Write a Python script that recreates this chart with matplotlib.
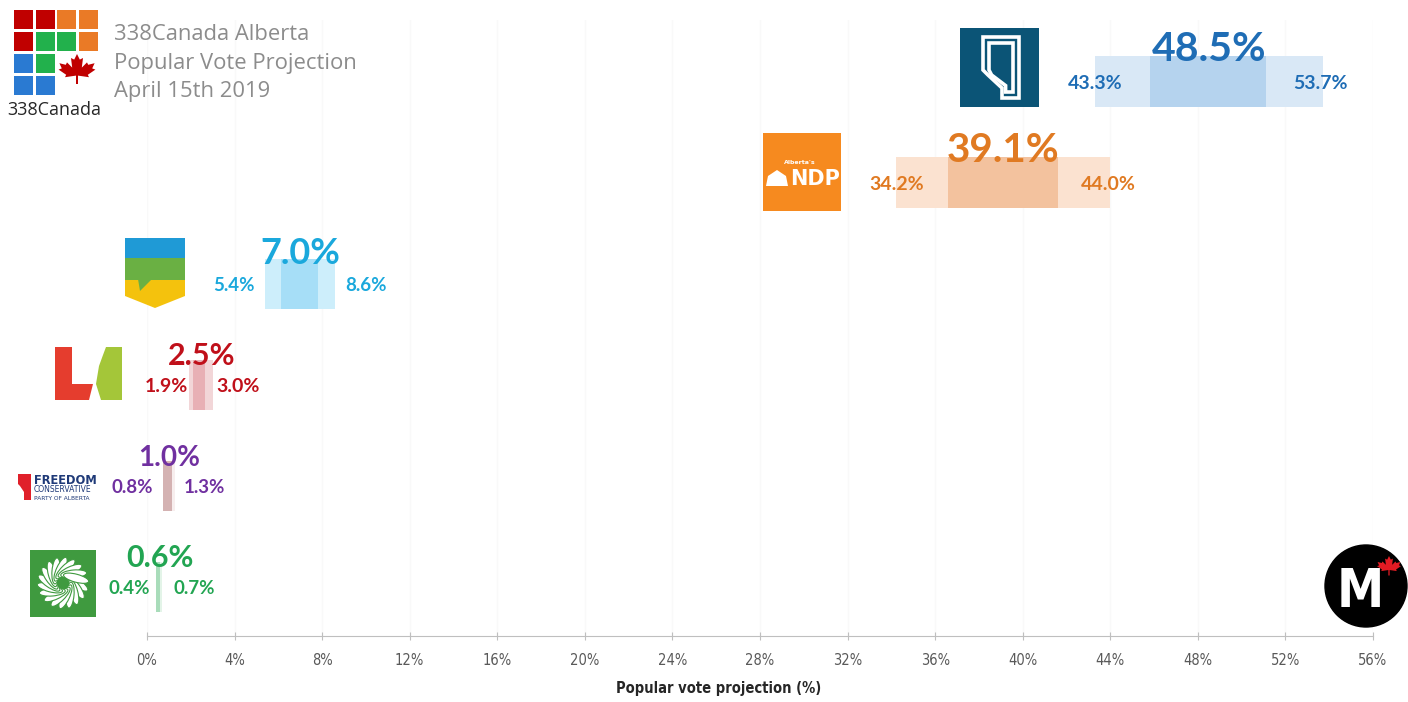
import numpy as np
import matplotlib
matplotlib.use("Agg")
import matplotlib.pyplot as plt
from matplotlib.patches import Rectangle, Polygon, Circle, Ellipse

# projection data (April 15th 2019)
parties = ["UCP", "NDP", "Alberta Party", "Liberal", "Freedom Conservative", "Green"]
projection = [48.5, 39.1, 7.0, 2.5, 1.0, 0.6]
low = [43.3, 34.2, 5.4, 1.9, 0.8, 0.4]
high = [53.7, 44.0, 8.6, 3.0, 1.3, 0.7]
inner_low = [45.8, 36.6, 6.1, 2.1, 0.75, 0.4]
inner_high = [51.1, 41.6, 7.8, 2.65, 1.15, 0.6]
xticks = list(range(0, 57, 4))

# styling per party
text_col = ["#1f6db5", "#e07a22", "#1aa8dc", "#c0101a", "#7030a0", "#22a552"]
outer_col = ["#d9e8f6", "#fbe2d0", "#cdeefb", "#f2d6d8", "#f7eeee", "#e3f4e8"]
inner_col = ["#b5d3ee", "#f3c29e", "#a6def7", "#e8b0b5", "#d4b2b2", "#a9dcba"]
big_size = [29.5, 29, 26, 22, 20, 22]
small_size = [14, 14, 13.5, 14, 13.5, 13.5]
low_dx = [28, 28, -11, -1, -12, -6]
high_dx = [-29, -29, 10, 4, 8, 11]

W, H = 1408, 702
fig = plt.figure(figsize=(W / 100, H / 100), dpi=100)
ax = fig.add_axes([147 / W, 1 - 636 / H, (1373 - 147) / W, (636 - 20) / H])

ypos = np.arange(len(parties))[::-1]
ax.barh(ypos, np.subtract(high, low), left=low, height=0.5, color=outer_col, zorder=2)
ax.barh(ypos, np.subtract(inner_high, inner_low), left=inner_low, height=0.5,
        color=inner_col, zorder=3)

bold = dict(family="Lato", fontweight="bold")
for i, y in enumerate(ypos):
    ax.annotate(f"{projection[i]:.1f}%", (projection[i], y + 0.25), xytext=(0, -5),
                textcoords="offset pixels", ha="center", va="baseline",
                fontsize=big_size[i], color=text_col[i], zorder=5, **bold)
    ax.annotate(f"{low[i]:.1f}%", (low[i], y), xytext=(low_dx[i], -2),
                textcoords="offset pixels", ha="right", va="center",
                fontsize=small_size[i], color=text_col[i], zorder=5, **bold)
    ax.annotate(f"{high[i]:.1f}%", (high[i], y), xytext=(high_dx[i], -2),
                textcoords="offset pixels", ha="left", va="center",
                fontsize=small_size[i], color=text_col[i], zorder=5, **bold)

ax.set_xlim(0, 56)
ax.set_ylim(-0.485, 5.61)
ax.set_xticks(xticks)
ax.set_xticklabels([f"{t}%" for t in xticks], color="#595959", fontsize=10.5,
                   fontstretch="condensed")
ax.set_yticks([])
ax.grid(axis="x", color="#f9f9f9", lw=1, zorder=0)
for s in ["top", "right", "left"]:
    ax.spines[s].set_visible(False)
ax.spines["bottom"].set_color("#bfbfbf")
ax.tick_params(axis="x", direction="inout", length=6, color="#bfbfbf", pad=9)
ax.set_xlabel("Popular vote projection (%)", fontsize=10.5, fontweight="bold",
              color="#262626", fontstretch="condensed")
ax.xaxis.set_label_coords(0.4666, -0.073)

# overlay in pixel coordinates for the logos and title
ov = fig.add_axes([0, 0, 1, 1], zorder=10)
ov.set_xlim(0, W)
ov.set_ylim(H, 0)
ov.axis("off")


def leaf(cx, cy, s, color):
    half = [(0, -1.0), (0.14, -0.72), (0.3, -0.8), (0.24, -0.32), (0.5, -0.58),
            (0.56, -0.46), (0.88, -0.54), (0.76, -0.28), (0.92, -0.22),
            (0.54, 0.04), (0.6, 0.16), (0.05, 0.08), (0.05, 0.5)]
    pts = half + [(-x, y) for x, y in reversed(half)]
    ov.add_patch(Polygon([(cx + x * s, cy + y * s) for x, y in pts], closed=True,
                         color=color, lw=0))


# 338Canada logo
grid = [["#c00000", "#c00000", "#ea7a26", "#ea7a26"],
        ["#c00000", "#22b14c", "#22b14c", "#ea7a26"],
        ["#2a7ad2", "#22b14c", None, None],
        ["#2a7ad2", "#2a7ad2", None, None]]
gx = [14, 36, 57, 79]
gy = [10, 32, 54, 76]
for r in range(4):
    for c in range(4):
        if grid[r][c]:
            ov.add_patch(Rectangle((gx[c], gy[r]), 19, 19, color=grid[r][c], lw=0))
leaf(77, 74, 20, "#c00000")
ov.text(54, 110, "338Canada", ha="center", va="center", fontsize=13,
        family="Open Sans", color="#262626")
for k, line in enumerate(["338Canada Alberta", "Popular Vote Projection", "April 15th 2019"]):
    ov.text(114, 34 + 29 * k, line, ha="left", va="center", fontsize=15.8,
            family="Open Sans", color="#8c8c8c")

# UCP logo
ov.add_patch(Rectangle((960, 28), 79, 79, color="#0b5476", lw=0))
for d in (0, 6):
    pts = [(983 + d, 37 + d), (1019 - d, 37 + d), (1019 - d, 98 - d), (1002 + d * 0.6, 98 - d),
           (1002 + d * 0.6, 88 - d * 0.4), (988 + d * 0.6, 75), (983 + d, 70)]
    ov.add_patch(Polygon(pts, closed=True, fill=False, ec="white", lw=2.6))

# NDP logo
ov.add_patch(Rectangle((763, 133), 78, 78, color="#f68a1f", lw=0))
ov.text(815, 179, "NDP", ha="center", va="center", fontsize=15, color="white",
        fontweight="heavy", family="DejaVu Sans")
ov.text(800, 163, "Alberta's", ha="center", va="center", fontsize=4.5, color="white",
        fontweight="bold")
ov.add_patch(Polygon([(766, 186), (768, 176), (777, 170), (786, 176), (788, 186)],
                     closed=True, color="white", lw=0))

# Alberta Party logo
ov.add_patch(Rectangle((125, 238), 60, 20, color="#1f9ad6", lw=0))
ov.add_patch(Rectangle((125, 258), 60, 22, color="#6ab043", lw=0))
ov.add_patch(Polygon([(125, 280), (185, 280), (185, 296), (155, 308), (125, 296)],
                     closed=True, color="#f4c20d", lw=0))
ov.add_patch(Polygon([(138, 279), (152, 279), (140, 291)], closed=True,
                     color="#6ab043", lw=0))

# Liberal logo
ov.add_patch(Polygon([(55, 347), (72, 347), (72, 384), (93, 384), (89, 400), (55, 400)],
                     closed=True, color="#e53d2e", lw=0))
ov.add_patch(Polygon([(106, 347), (122, 347), (122, 400), (101, 400), (96, 384),
                      (99, 366), (103, 355)], closed=True, color="#a4c639", lw=0))

# Freedom Conservative logo
ov.add_patch(Polygon([(18, 474), (31, 474), (31, 500), (24, 500), (24, 492), (20, 486), (18, 484)],
                     closed=True, color="#e0202a", lw=0))
ov.text(34, 480, "FREEDOM", fontsize=8.3, fontweight="bold", color="#1f3a78",
        va="center", family="DejaVu Sans")
ov.text(34, 490, "CONSERVATIVE", fontsize=5.5, color="#1f3a78", va="center",
        family="DejaVu Sans")
ov.text(34, 498, "PARTY OF ALBERTA", fontsize=4.2, color="#1f3a78", va="center",
        family="DejaVu Sans")

# Green logo
ov.add_patch(Rectangle((30, 550), 66, 67, color="#3f9a3f", lw=0))
for t in np.linspace(0, 2 * np.pi, 18, endpoint=False):
    ov.add_patch(Ellipse((63 + 14 * np.cos(t), 583 + 14 * np.sin(t)), 26, 8,
                         angle=np.degrees(t) + 35, fc="white", ec="#3f9a3f", lw=0.8))
ov.add_patch(Circle((63, 583), 5, color="#3f9a3f"))

# M logo
ov.add_patch(Circle((1366, 586), 41, color="black"))
ov.text(1360, 592, "M", ha="center", va="center", fontsize=38, color="white",
        fontweight="bold", fontstretch="condensed")
leaf(1389, 569, 13, "#e31b23")

fig.savefig("out.png", dpi=100, facecolor="white")
